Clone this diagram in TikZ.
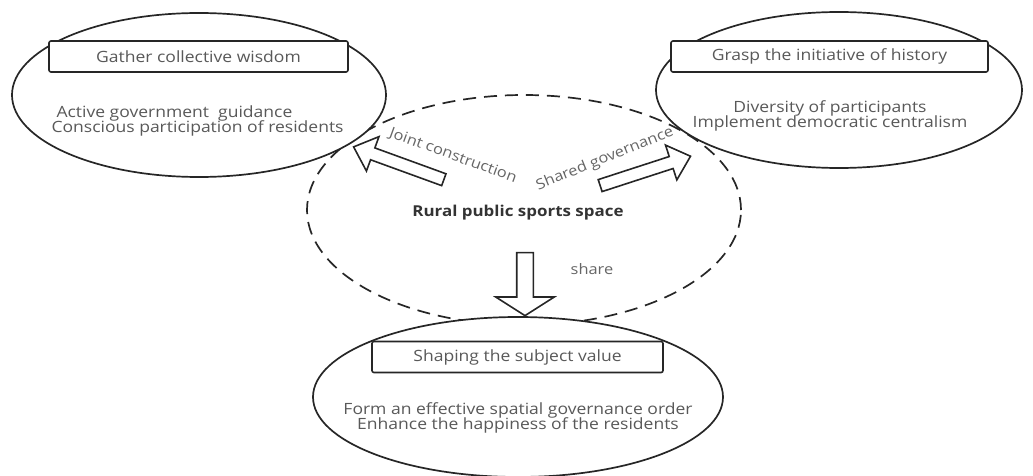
\documentclass[tikz,border=0pt]{standalone}
\usepackage{fontspec}
\setmainfont{Open Sans}[FakeStretch=1.13]
\usetikzlibrary{shapes.geometric,shapes.arrows}
\newcommand\notefont{\fontsize{15.5}{15.5}\selectfont\lineskiplimit=-10pt\relax}

\begin{document}
\begin{tikzpicture}[x=1pt,y=-1pt,
    zone/.style={ellipse, draw=black!85, line width=1.7pt, fill=white, inner sep=0pt},
    titlebox/.style={draw=black!85, line width=1.6pt, rounded corners=2pt, fill=white,
      inner sep=0pt, text=black!65, font=\fontsize{15.5}{17}\selectfont},
    note/.style={text=black!65, font=\notefont},
    blockarrow/.style={single arrow, draw=black!85, line width=1.6pt, fill=white,
      inner sep=0pt, inner ysep=5.5pt, single arrow head extend=12pt, single arrow tip angle=84}]

        \useasboundingbox (0,0) rectangle (1033,476);

        % dashed core
        \node[ellipse, draw=black!85, line width=1.7pt, dash pattern=on 13pt off 8pt,
          minimum width=434pt, minimum height=230pt] (core) at (524,210) {};

        \begin{scope}[every node/.style={zone}]
          \node[minimum width=374pt, minimum height=164pt] (wisdom)  at (199,95)  {};
          \node[minimum width=366pt, minimum height=156pt] (history) at (839,90)  {};
          \node[minimum width=410pt, minimum height=160pt] (value)   at (518,397) {};
        \end{scope}

        \begin{scope}[every node/.style={titlebox, minimum height=31pt}]
          \node[minimum width=299pt] (t1) at (198.5,56.5) {Gather collective wisdom};
          \node[minimum width=317pt] (t2) at (829.5,56.5) {Grasp the initiative of history};
          \node[minimum width=291pt] (t3) at (517.5,357)  {Shaping the subject value};
        \end{scope}

        \begin{scope}[every node/.style={note}]
          \node[anchor=west, align=left] (b1) at (48,121)
            {\hspace{5pt}Active government\ \ guidance\\Conscious participation of residents};
          \node[align=center] (b2) at (830,116)
            {Diversity of participants\\Implement democratic centralism};
          \node[align=center] (b3) at (518,418)
            {Form an effective spatial governance order\\Enhance the happiness of the residents};
        \end{scope}

        \node[font=\fontsize{15}{16}\selectfont\bfseries, text=black!80] (centre) at (518,213)
          {Rural public sports space};

        \begin{scope}[every node/.style={blockarrow}]
          \node[minimum height=96pt, rotate=160] (joint)  at (402,164.5) {};
          \node[minimum height=95pt, rotate=18]  (shared) at (642,172) {};
          \node[minimum height=63pt, rotate=-90, inner ysep=7.5pt, single arrow head extend=21pt,
            single arrow tip angle=115] (share) at (525,281.5) {};
        \end{scope}

        \begin{scope}[every node/.style={text=black!60, font=\fontsize{14.5}{16}\selectfont}]
          \node[rotate=-20] (l1) at (453,156) {Joint construction};
          \node[rotate=22]  (l2) at (605,159) {Shared governance};
          \node             (l3) at (592,269) {share};
        \end{scope}

      \end{tikzpicture}
\end{document}
